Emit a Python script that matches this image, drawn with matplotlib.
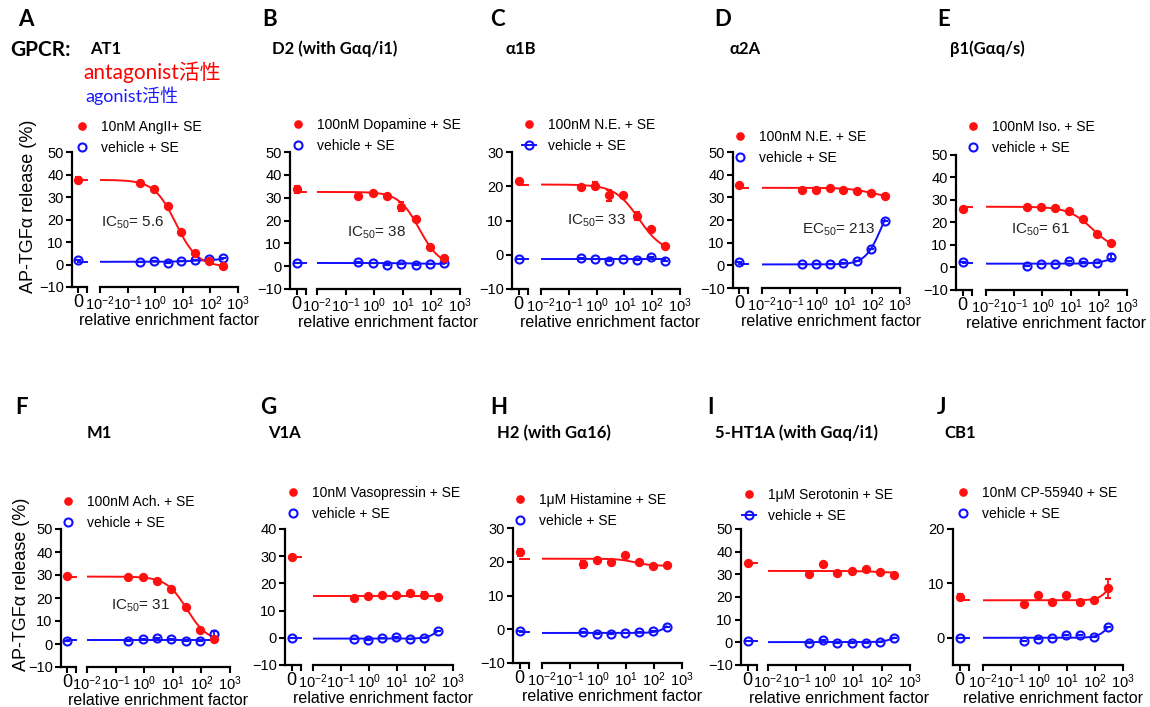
import numpy as np
import matplotlib
matplotlib.use("Agg")
import matplotlib.pyplot as plt
from matplotlib.lines import Line2D
from matplotlib.ticker import NullLocator
from matplotlib.transforms import blended_transform_factory

plt.rcParams['font.family'] = ['Liberation Sans', 'Noto Sans CJK SC', 'DejaVu Sans']
plt.rcParams['mathtext.default'] = 'regular'

# ---- data ----
conc = [0.28, 0.89, 2.8, 8.9, 28, 89, 280]   # relative enrichment factor
letters = ['A', 'B', 'C', 'D', 'E', 'F', 'G', 'H', 'I', 'J']
receptors = ['AT1', 'D2 (with Gαq/i1)', 'α1B', 'α2A', 'β1(Gαq/s)',
             'M1', 'V1A', 'H2 (with Gα16)', '5-HT1A (with Gαq/i1)', 'CB1']
ligands = ['10nM AngII+ SE', '100nM Dopamine + SE', '100nM N.E. + SE', '100nM N.E. + SE',
           '100nM Iso. + SE', '100nM Ach. + SE', '10nM Vasopressin + SE',
           '1μM Histamine + SE', '1μM Serotonin + SE', '10nM CP-55940 + SE']
potency = ['IC$_{50}$= 5.6', 'IC$_{50}$= 38', 'IC$_{50}$= 33', 'EC$_{50}$= 213', 'IC$_{50}$= 61',
           'IC$_{50}$= 31', None, None, None, None]

# first value is the "0" (no SE) point, then one value per conc
ligand_resp = [
    [37.6, 36.2, 33.5, 26.0, 14.5, 5.0, 1.5, -0.5],
    [33.7, 30.9, 32.2, 30.7, 26.0, 20.7, 8.5, 3.5],
    [21.6, 19.9, 20.1, 17.3, 17.3, 11.3, 7.5, 2.6],
    [35.6, 33.4, 33.2, 34.0, 33.2, 32.8, 31.7, 30.8],
    [26.0, 27.0, 27.0, 26.6, 25.1, 21.4, 14.9, 10.7],
    [29.4, 29.0, 29.2, 27.6, 24.0, 16.2, 6.3, 2.2],
    [29.7, 14.6, 15.2, 15.6, 15.9, 16.4, 15.7, 14.9],
    [22.8, 19.2, 20.4, 19.9, 21.9, 20.0, 18.7, 19.0],
    [35.1, 30.0, 34.4, 30.4, 31.5, 32.2, 31.2, 29.7],
    [7.5, 6.2, 7.8, 6.5, 7.8, 6.5, 6.9, 9.1],
]
ligand_err = [
    [1.5, 0, 0, 0, 0, 0, 0, 0],
    [1.5, 0, 0, 0, 2.0, 0, 0, 0],
    [0, 0, 1.0, 1.5, 0, 1.2, 0, 0],
    [0, 0, 0, 0, 0, 0, 0, 0],
    [0, 0, 0, 0, 0, 0, 0, 0],
    [0, 0, 0, 0, 0, 0, 0, 0],
    [0, 0, 0, 0, 0, 0, 1.2, 0],
    [1.0, 1.0, 0, 0, 0, 0, 0, 0],
    [0, 0, 0, 0, 0, 0, 0, 0],
    [0.6, 0, 0, 0, 0, 0, 0, 1.8],
]
# level of the short line drawn next to the "0" point
ligand_zero_line = [37.6, 32.5, 20.5, 34.2, 27.0, 29.3, 29.7, 20.9, 35.1, 7.0]

vehicle_resp = [
    [2.2, 1.0, 1.5, 0.6, 1.5, 1.9, 2.3, 2.8],
    [1.5, 1.8, 1.3, 0.6, 0.8, 0.6, 0.8, 1.3],
    [-1.3, -1.0, -1.3, -1.7, -1.2, -1.5, -0.7, -1.9],
    [1.5, 0.6, 0.6, 0.4, 0.9, 1.8, 7.2, 19.6],
    [2.3, 0.7, 1.7, 1.7, 2.7, 2.4, 2.2, 4.8],
    [1.5, 1.5, 2.2, 2.7, 2.2, 1.5, 1.2, 4.2],
    [-0.2, -0.5, -0.7, -0.2, 0.2, -0.5, 0.0, 2.5],
    [-0.6, -0.8, -1.3, -1.3, -1.1, -0.7, -0.6, 0.8],
    [0.7, -0.4, 1.0, -0.1, -0.4, -0.4, 0.0, 2.1],
    [0.0, -0.6, -0.2, 0.0, 0.6, 0.6, 0.2, 2.05],
]
vehicle_err = [
    [0, 0, 0, 0, 0, 0, 0, 0],
    [0, 0, 0, 0, 0, 0, 0, 0],
    [0, 0, 0, 0, 0, 0, 0, 0],
    [0, 0, 0, 0, 0, 0, 0, 0],
    [0, 0, 0, 0, 0, 0, 0, 1.0],
    [0, 0, 0, 0, 0, 0, 0, 1.5],
    [0, 0, 0, 0, 0, 0, 0, 0],
    [0, 0, 0, 0, 0, 0, 0, 0],
    [0, 0, 0, 0, 0, 0, 0, 0],
    [0, 0, 0, 0, 0, 0, 0, 0],
]
vehicle_zero_line = [1.2, 1.4, -1.3, 0.4, 1.8, 1.6, -0.2, -0.9, 0.6, 0.0]

# fitted curves: (value at low conc, value at high conc, EC50/IC50, hill)
ligand_fit = [
    (37.6, -1.0, 5.6, 1.1), (32.5, 0.0, 38, 1.2), (20.5, 0.5, 33, 1.0),
    (34.2, 29.5, 100, 1.0), (27.0, 7.0, 61, 1.0), (29.3, 1.0, 31, 1.2),
    (15.5, 15.5, 100, 1.0), (20.9, 18.8, 20, 1.5), (31.5, 30.5, 100, 1.0),
    (6.9, 18.0, 600, 2.0),
]
vehicle_fit = [
    (1.2, 2.5, 50, 1.0), (1.4, 1.0, 20, 1.0), (-1.3, -1.3, 100, 1.0),
    (0.4, 33.0, 213, 1.5), (1.7, 6.0, 300, 1.5), (1.8, 1.8, 100, 1.0),
    (-0.3, 8.0, 400, 2.0), (-1.1, 7.0, 500, 2.0), (0.1, 6.0, 400, 2.0),
    (0.0, 8.0, 500, 2.0),
]
y_limits = [(-10, 50), (-10, 50), (-10, 30), (-10, 50), (-10, 50),
            (-10, 50), (-10, 40), (-10, 30), (-10, 50), (-5, 20)]
y_ticks = [range(-10, 51, 10), range(-10, 51, 10), range(-10, 31, 10), range(-10, 51, 10),
           range(-10, 51, 10), range(-10, 51, 10), range(-10, 41, 10), range(-10, 31, 10),
           range(-10, 51, 10), [0, 10, 20]]
vehicle_line_legend = [False, False, True, False, False, False, False, False, True, False]

# ---- layout (pixels in a 1150x707 canvas) ----
W, H = 1150, 707
# spine x, zero-segment end, log left, log right, top, bottom
boxes = [
    (72, 87, 100, 238, 152, 287), (290, 306, 317, 460, 152, 289),
    (512, 528, 541, 680, 152, 289), (733, 748, 762, 900, 152, 288),
    (956, 972, 986, 1127, 155, 290),
    (61, 76, 87, 230, 529, 667), (285, 301, 313, 453, 529, 665),
    (513, 529, 542, 682, 528, 663), (741, 757, 768, 910, 529, 665),
    (953, 969, 983, 1123, 529, 665),
]
legend_xy = [(75, 120), (291, 118), (522, 118), (733, 130), (966, 120),
             (61, 495), (286, 486), (513, 493), (742, 488), (956, 486)]
letter_xy = [(18, 20), (262, 20), (490, 20), (714, 20), (937, 20),
             (15, 407), (260, 407), (490, 407), (707, 407), (937, 407)]
title_xy = [(90, 49), (272, 49), (505, 49), (730, 49), (950, 49),
            (87, 433), (268, 433), (497, 433), (715, 433), (944, 433)]
ic_xy = [(0.01, 18.4), (0.21, 14.5), (0.187, 10.0), (0.29, 15.7), (0.18, 16.7), (0.17, 16.4)]

RED = '#ff1010'
BLUE = '#1010ff'
bold_font = ['Lato', 'Open Sans', 'DejaVu Sans']

fig = plt.figure(figsize=(W / 100, H / 100), dpi=100)


def px_axes(left, right, top, bottom, **kw):
    return fig.add_axes([left / W, 1 - bottom / H, (right - left) / W, (bottom - top) / H], **kw)


def logistic(x, y0, yinf, mid, hill):
    return y0 + (yinf - y0) / (1 + (mid / x) ** hill)


def style(ax):
    for s in ['top', 'right']:
        ax.spines[s].set_visible(False)
    for s in ['left', 'bottom']:
        ax.spines[s].set_linewidth(1.6)
    ax.tick_params(direction='out', length=4.5, width=1.5, labelsize=10.5, pad=1.5)
    ax.tick_params(axis='x', pad=0.5)
    ax.patch.set_visible(False)


xfit = np.logspace(-2, np.log10(conc[-1]), 200)

for i in range(10):
    sx, zx, lx, rx, top, bot = boxes[i]
    ax0 = px_axes(sx, zx, top, bot)
    ax1 = px_axes(lx, rx, top, bot, sharey=ax0)
    style(ax0)
    style(ax1)
    ax1.spines['left'].set_visible(False)
    ax1.tick_params(left=False, labelleft=False)

    ax0.set_ylim(*y_limits[i])
    ax0.set_yticks(list(y_ticks[i]))
    ax0.set_xlim(-0.7, 1.0)
    ax0.set_xticks([0, 1.0])
    ax0.set_xticklabels(['0', ''], fontsize=13)

    ax1.set_xscale('log')
    ax1.set_xlim(1e-2, 1e3)
    ax1.set_xticks([10.0 ** k for k in range(-2, 4)])
    ax1.set_xticklabels([r'$10^{%d}$' % k for k in range(-2, 4)], fontsize=10.5)
    ax1.xaxis.set_minor_locator(NullLocator())
    ax1.set_xlabel('relative enrichment factor', fontsize=11.5, labelpad=0)

    series = [(vehicle_resp[i], vehicle_err[i], vehicle_fit[i], vehicle_zero_line[i], BLUE, 'none'),
              (ligand_resp[i], ligand_err[i], ligand_fit[i], ligand_zero_line[i], RED, RED)]
    for resp, err, fit, zl, col, face in series:
        ax0.plot([0, 1.0], [zl, zl], color=col, lw=1.4, clip_on=False)
        ax1.plot(xfit, logistic(xfit, *fit), color=col, lw=1.4)
        ms = 5.2 if face != 'none' else 5.8
        ax0.errorbar([0], resp[:1], yerr=err[:1], fmt='o', color=col, mfc=face, mec=col, ms=ms,
                     mew=1.5, capsize=2.5, elinewidth=1.3, clip_on=False)
        ax1.errorbar(conc, resp[1:], yerr=err[1:], fmt='o', color=col, mfc=face, mec=col, ms=ms,
                     mew=1.5, capsize=2.5, elinewidth=1.3, clip_on=False)

    if potency[i]:
        tr = blended_transform_factory(ax1.transAxes, ax1.transData)
        ax1.text(ic_xy[i][0], ic_xy[i][1], potency[i], transform=tr, fontsize=11,
                 ha='left', va='center', color='#222222')

    h_red = Line2D([], [], ls='none', marker='o', color=RED, ms=5.2)
    h_blue = Line2D([], [], ls='-' if vehicle_line_legend[i] else 'none', lw=1.4, marker='o',
                    color=BLUE, mfc='none', ms=5.8, mew=1.5)
    lx0, ly0 = legend_xy[i]
    ax0.legend([h_red, h_blue], [ligands[i], 'vehicle + SE'], loc='upper left',
               bbox_to_anchor=(lx0 / W, 1 - ly0 / H), bbox_transform=fig.transFigure,
               frameon=False, borderpad=0, borderaxespad=0, handlelength=1.0,
               handletextpad=0.9, labelspacing=0.5, fontsize=10)

    fig.text(letter_xy[i][0] / W, 1 - letter_xy[i][1] / H, letters[i], fontsize=16,
             fontweight='bold', family=bold_font, ha='left', va='center')
    fig.text(title_xy[i][0] / W, 1 - title_xy[i][1] / H, receptors[i], fontsize=12,
             fontweight='bold', family=bold_font, ha='left', va='center')

fig.text(10 / W, 1 - 50 / H, 'GPCR:', fontsize=15, fontweight='bold', family=bold_font,
         ha='left', va='center')
fig.text(83 / W, 1 - 72 / H, 'antagonist活性', fontsize=15, color='#ff0000',
         family=['Lato', 'Noto Sans CJK SC'], ha='left', va='center')
fig.text(85 / W, 1 - 96 / H, 'agonist活性', fontsize=13, color='#1a1aff',
         family=['Lato', 'Noto Sans CJK SC'], ha='left', va='center')

for yc in [(206, 29), (584, 22)]:
    fig.text(yc[1] / W, 1 - yc[0] / H, 'AP-TGFα release (%)', fontsize=13, rotation=90,
             ha='center', va='center')

fig.savefig('out.png', dpi=100)
